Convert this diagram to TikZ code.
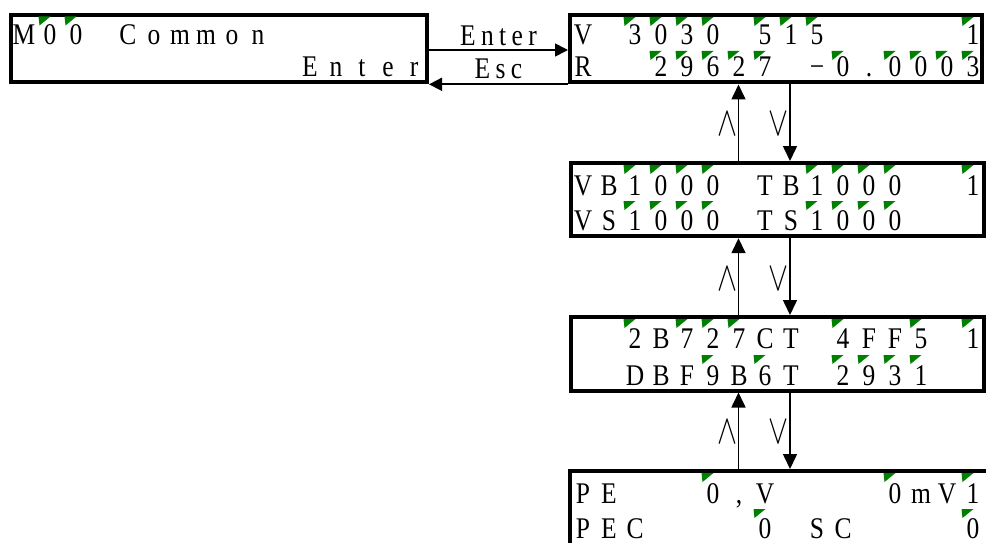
\documentclass[tikz,border=0pt]{standalone}
\usepackage{fontspec}
\usepackage{graphicx}
\setmainfont{Liberation Serif}
\newfontfamily\lcdfont[FakeStretch=0.85]{Liberation Serif}
\newfontfamily\lblfont[FakeStretch=0.85,LetterSpace=18]{Liberation Serif}
\usetikzlibrary{arrows.meta}
\definecolor{markgreen}{RGB}{0,128,0}
\newcommand{\lcdchars}[4]{% x0, baseline, prefix, list col/char
  \foreach \c/\t in {#4} {\node[ch] (#3\c) at ({#1+13+26*\c},#2) {\t};}}
\newcommand{\lcdmarks}[3]{% x0, top, list of cols
  \foreach \c in {#3} {\fill[markgreen] ({#1+1.5+26*\c},#2) -- ++(12,0) -- ++(-11,9) -- cycle;}}
\begin{document}
\begin{tikzpicture}[x=1pt,y={(0pt,-1pt)},
  lcdbox/.style={draw, line width=4pt, rectangle, inner sep=0pt},
  ch/.style={anchor=base, inner sep=0pt, font=\lcdfont\fontsize{30pt}{32pt}\selectfont},
  lbl/.style={anchor=base, inner sep=0pt, font=\lblfont\fontsize{30pt}{32pt}\selectfont},
  conn/.style={line width=1.6pt, -{Triangle[length=15pt,width=14pt]}},
  hconn/.style={line width=1.7pt, -{Triangle[length=13pt,width=13pt]}},
  opsym/.style={inner sep=0pt}]
\useasboundingbox (0,0) rectangle (986,543);

% boxes
\node[lcdbox, minimum width=415.7pt, minimum height=66.9pt] (b1) at (219.15,48.75) {};
\node[lcdbox, minimum width=411.5pt, minimum height=67pt] (b2) at (775.75,49) {};
\node[lcdbox, minimum width=413pt, minimum height=73.2pt] (b3) at (777,199.6) {};
\node[lcdbox, minimum width=413pt, minimum height=73.5pt] (b4) at (777,353.75) {};
\node[lcdbox, minimum width=422pt, minimum height=74pt] (b5) at (781.3,508) {};

% box 1
\lcdmarks{11}{16.5}{1,2}
\lcdchars{11}{45}{ba}{0/M,1/0,2/0,4/C,5/o,6/m,7/m,8/o,9/n}
\lcdchars{11}{77}{bb}{11/E,12/n,13/t,14/e,15/r}

% box 2
\lcdmarks{570}{17}{2,3,4,5,7,8,9,15}
\lcdchars{570}{44.5}{ca}{0/V,2/3,3/0,4/3,5/0,7/5,8/1,9/5,15/1}
\lcdmarks{570}{51}{3,4,5,6,7,10,12,13,14,15}
\lcdchars{570}{77}{cb}{0/R,3/2,4/9,5/6,6/2,7/7,9/−,10/0,11/.,12/0,13/0,14/0,15/3}

% box 3
\lcdmarks{570}{165}{2,3,4,5,9,10,11,12,15}
\lcdchars{570}{195}{da}{0/V,1/B,2/1,3/0,4/0,5/0,7/T,8/B,9/1,10/0,11/0,12/0,15/1}
\lcdmarks{570}{201}{2,3,4,5,9,10,11,12}
\lcdchars{570}{230}{db}{0/V,1/S,2/1,3/0,4/0,5/0,7/T,8/S,9/1,10/0,11/0,12/0}

% box 4
\lcdmarks{570}{319}{2,4,5,6,10,13,15}
\lcdchars{570}{348}{ea}{2/2,3/B,4/7,5/2,6/7,7/C,8/T,10/4,11/F,12/F,13/5,15/1}
\lcdmarks{570}{355}{5,7,10,11,12,13}
\lcdchars{570}{385}{eb}{2/D,3/B,4/F,5/9,6/B,7/6,8/T,10/2,11/9,12/3,13/1}

% box 5
\lcdmarks{570}{473}{5,12,15}
\lcdchars{570}{503}{fa}{0/P,1/E,5/0,6/{,},7/V,12/0,13/m,14/V,15/1}
\lcdmarks{570}{509}{7,15}
\lcdchars{570}{538}{fb}{0/P,1/E,2/C,7/0,9/S,10/C,15/0}

% horizontal connectors
\coordinate (entery) at (0,50);
\coordinate (escy) at (0,84.3);
\draw[hconn] (b1.east |- entery) -- (b2.west |- entery);
\draw[hconn] (b2.west |- escy) -- (b1.east |- escy);
\node[lbl] (enterlbl) at (498.5,46) {Enter};
\node[lbl] (esclbl) at (498.5,79) {Esc};

% vertical connectors
\coordinate (upx) at (738.5,0);
\coordinate (dnx) at (790,0);
\draw[conn] (b3.north -| upx) -- (b2.south -| upx);
\draw[conn] (b2.south -| dnx) -- (b3.north -| dnx);
\draw[conn] (b4.north -| upx) -- (b3.south -| upx);
\draw[conn] (b3.south -| dnx) -- (b4.north -| dnx);
\draw[conn] (b5.north -| upx) -- (b4.south -| upx);
\draw[conn] (b4.south -| dnx) -- (b5.north -| dnx);

\node[opsym] (up1) at (727.5,123.5) {\resizebox{20pt}{23pt}{$\wedge$}};
\node[opsym] (dn1) at (778,123.5) {\resizebox{20pt}{23pt}{$\vee$}};
\node[opsym] (up2) at (727.5,278.5) {\resizebox{20pt}{23pt}{$\wedge$}};
\node[opsym] (dn2) at (778,278.5) {\resizebox{20pt}{23pt}{$\vee$}};
\node[opsym] (up3) at (727.5,432) {\resizebox{20pt}{23pt}{$\wedge$}};
\node[opsym] (dn3) at (778,432) {\resizebox{20pt}{23pt}{$\vee$}};
\end{tikzpicture}
\end{document}
